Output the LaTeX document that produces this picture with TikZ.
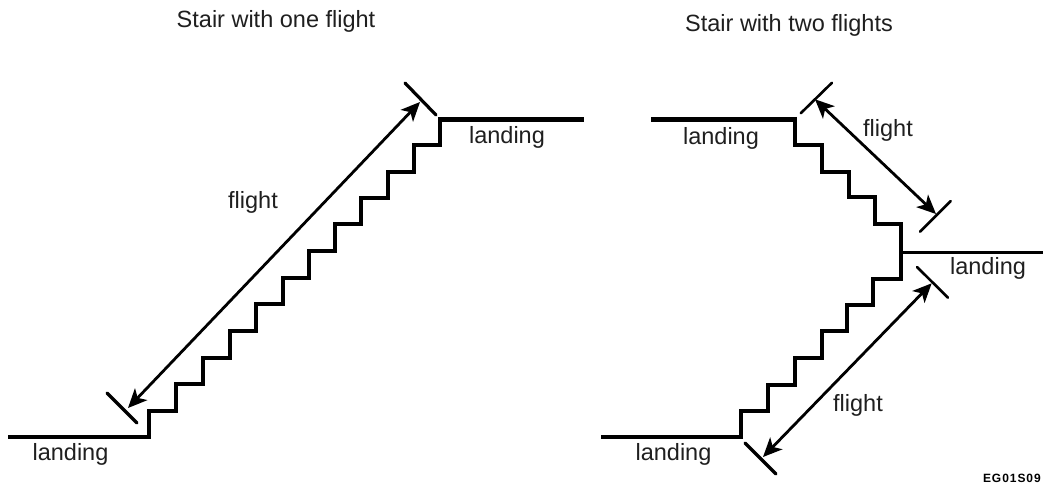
\documentclass[tikz,border=0pt]{standalone}
\usepackage{fontspec}
\setmainfont{Liberation Sans}
\usetikzlibrary{arrows.meta}
\newfontfamily\codefont[LetterSpace=8]{Liberation Sans Bold}
\tikzset{
  tread/.style={line width=4pt,line join=miter,line cap=butt},
  heavy/.style={line width=5.5pt,line cap=butt},
  light/.style={line width=3.6pt,line cap=butt},
  tick/.style={line width=3.2pt,line cap=round},
  thintick/.style={line width=2.6pt,line cap=round},
  dim/.style={line width=2.8pt,{Stealth[length=19pt,width=17pt,inset=5pt]}-{Stealth[length=19pt,width=17pt,inset=5pt]}},
  lbl/.style={inner sep=0pt,anchor=base,text=black!88,font=\fontsize{23.5}{26}\selectfont}
}
\begin{document}
\begin{tikzpicture}[x=1pt,y=-1pt]
\useasboundingbox (0,0) rectangle (1043,484);
\fill[white] (0,0) rectangle (1043,484);
% left stair
\draw[light] (8,436.7) -- (151,436.7);
\draw[tread] (149,438) |- (176,410.7) |- (203,384) |- (230,358) |- (256,331) |- (283,304) |- (309,278) |- (335,251) |- (361,224) |- (388,198) |- (414,172) |- (440,145) -- (440,117);
\draw[heavy] (438,119.3) -- (584,119.3);
% right stair
\draw[heavy] (651,119.3) -- (797,119.3);
\draw[tread] (795,117) |- (821.7,145) |- (849,171.7) |- (875,196.7) |- (901,224) -- (901,279) -| (873,305) -| (847,331) -| (821.7,358) -| (795,385) -| (768,410.7) -| (741,438);
\draw[line width=3pt] (901,252) -- (1043,252);
\draw[light] (743,436.7) -- (601,436.7);
% left flight
\coordinate (a1) at (128,408); \coordinate (a2) at (420,102);
\draw[dim] (a1) -- (a2);
\draw[tick] (107,393) -- (137,423);
\draw[tick] (405,83) -- (436,115);
% right upper flight
\coordinate (b1) at (815,99.3); \coordinate (b2) at (936,214);
\draw[dim] (b1) -- (b2);
\draw[thintick] (800.7,113.3) -- (832,82.7);
\draw[thintick] (920,231.7) -- (950.7,201);
% right lower flight
\coordinate (c1) at (931.7,283.3); \coordinate (c2) at (763,457);
\draw[dim] (c1) -- (c2);
\draw[thintick] (917,267) -- (948,297.7);
\draw[tick] (745,443) -- (776,474);
% labels
\node[lbl] (t1) at (276,28) {Stair with one flight};
\node[lbl] (t2) at (789,32) {Stair with two flights};
\node[lbl] (l1) at (70.5,460.5) {landing};
\node[lbl] (l2) at (507,143) {landing};
\node[lbl] (l3) at (721,144) {landing};
\node[lbl] (l4) at (988,274) {landing};
\node[lbl] (l5) at (673.5,460) {landing};
\node[lbl] (f1) at (253,208) {flight};
\node[lbl] (f2) at (888,136) {flight};
\node[lbl] (f3) at (858,411) {flight};
\node[inner sep=0pt,anchor=base east,font=\fontsize{12}{13}\selectfont\codefont] (code) at (1041,482.5) {EG01S09};
\end{tikzpicture}
\end{document}
